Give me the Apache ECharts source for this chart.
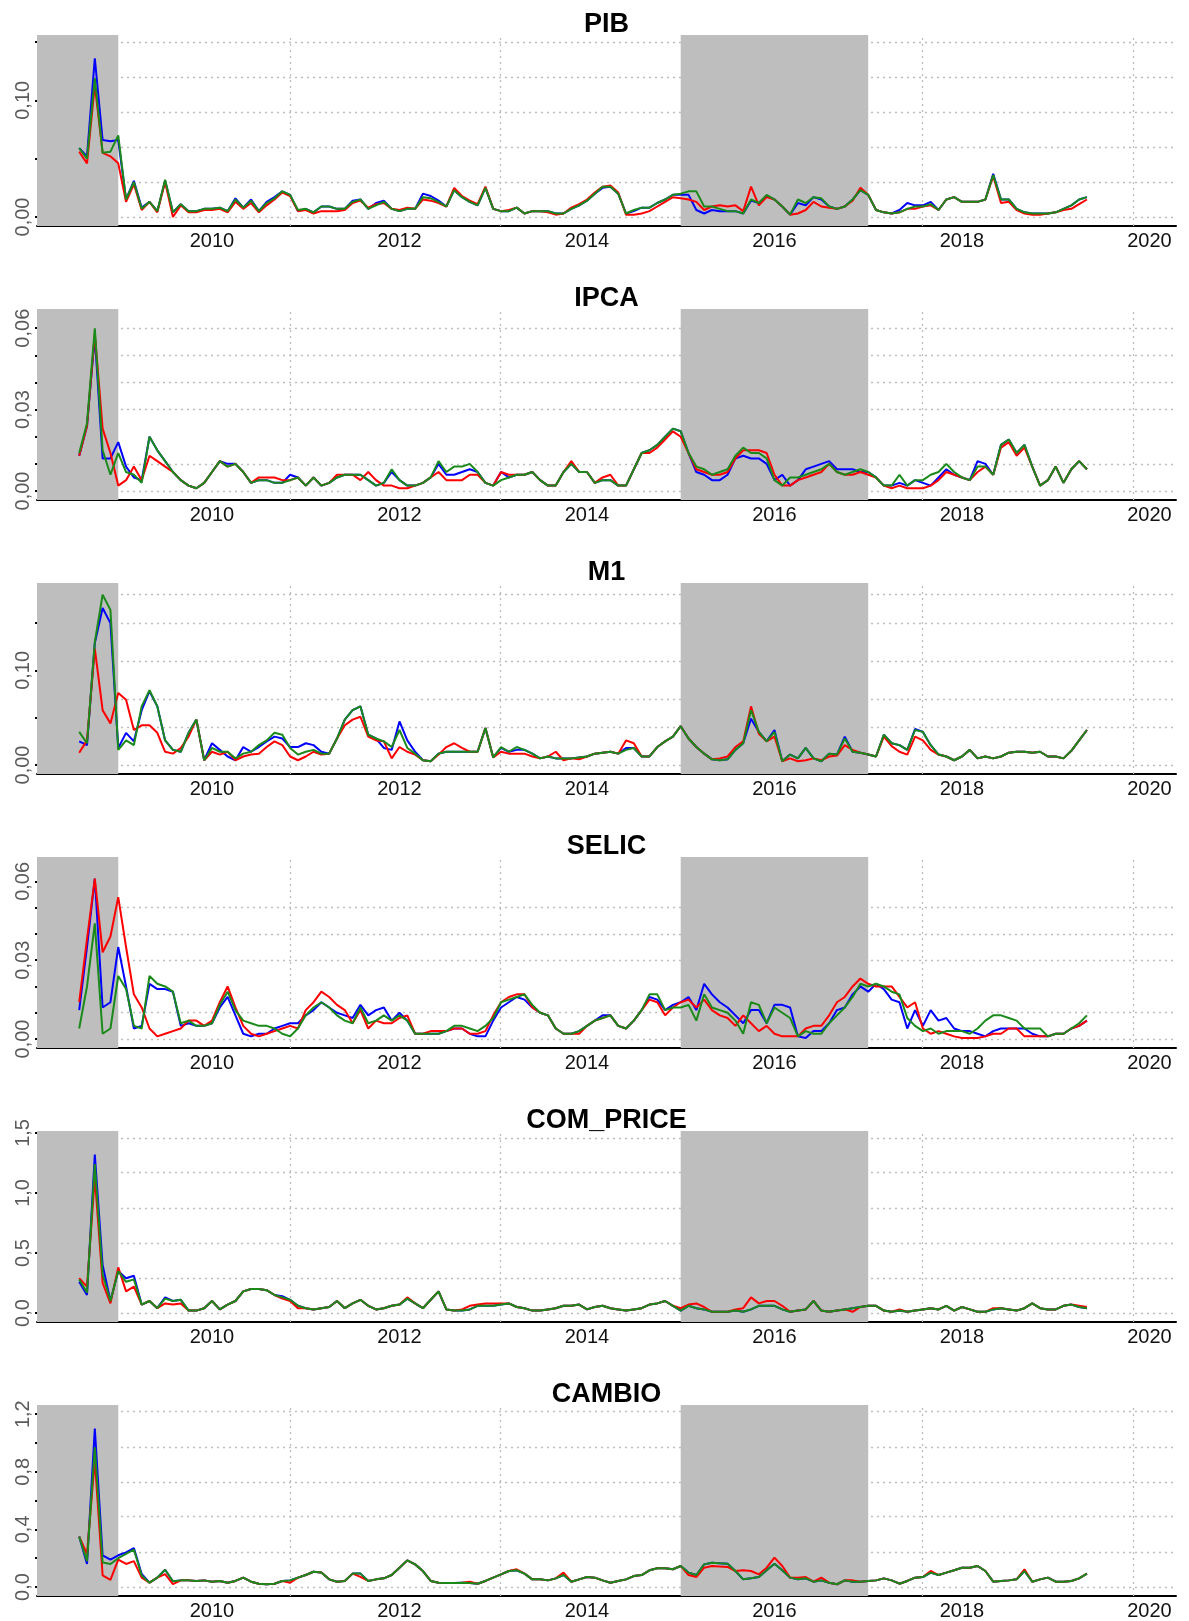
<!DOCTYPE html>
<html>
<head>
<meta charset="utf-8">
<script src="https://cdn.jsdelivr.net/npm/echarts@6/dist/echarts.min.js"></script>
<style>
  html, body { margin: 0; padding: 0; background: #fff; }
  #chart { width: 1189px; height: 1621px; }
</style>
</head>
<body>
<div id="chart"></div>
<script>
// ---- time index: monthly observations, Aug 2008 .. May 2019 (index runs to Nov 2019) ----
const firstYear = 2008;
const firstMonth = 8;
const observedMonths = 130;
const indexMonths = 136;
const yearTicks = [2010, 2012, 2014, 2016, 2018, 2020];
const verticalGridMonths = [0, 27, 54, 81, 108, 135];
const shadedPeriods = [[null, 2009], [2015, 2017]];

// ---- PIB ----
const pibBlue = [
  .059,.052,.136,.066,.065,.066,.015,.031,.008,.013,
  .005,.031,.004,.011,.005,.005,.007,.007,.008,.005,
  .016,.008,.015,.005,.013,.017,.022,.019,.005,.007,
  .004,.009,.009,.007,.007,.014,.015,.007,.012,.014,
  .007,.005,.007,.007,.020,.018,.014,.009,.023,.017,
  .013,.010,.025,.007,.005,.005,.008,.003,.005,.005,
  .005,.003,.003,.007,.010,.014,.020,.025,.026,.020,
  .003,.005,.008,.008,.012,.015,.019,.019,.019,.006,
  .003,.006,.005,.005,.005,.003,.014,.012,.018,.015,
  .009,.002,.012,.010,.017,.015,.009,.007,.009,.015,
  .023,.019,.006,.004,.003,.006,.012,.010,.010,.013,
  .006,.015,.017,.013,.013,.013,.015,.037,.015,.015,
  .007,.004,.003,.003,.003,.004,.007,.010,.015,.017
];
const pibRed = [
  .056,.046,.113,.055,.052,.046,.013,.028,.006,.013,
  .004,.030,.000,.010,.004,.004,.006,.006,.007,.004,
  .013,.007,.012,.004,.010,.015,.021,.018,.005,.006,
  .003,.005,.005,.005,.006,.012,.014,.008,.011,.012,
  .007,.006,.008,.007,.015,.014,.012,.009,.025,.018,
  .014,.011,.026,.007,.005,.006,.008,.003,.005,.005,
  .004,.002,.003,.008,.011,.015,.021,.026,.027,.021,
  .002,.002,.003,.005,.009,.013,.017,.016,.015,.013,
  .006,.009,.010,.009,.010,.005,.026,.010,.017,.015,
  .009,.002,.003,.006,.013,.009,.008,.007,.009,.014,
  .025,.019,.006,.004,.003,.004,.007,.007,.009,.010,
  .006,.015,.017,.013,.013,.013,.015,.035,.012,.013,
  .006,.003,.002,.002,.003,.004,.006,.007,.011,.015
];
const pibGreen = [
  .059,.050,.119,.055,.056,.070,.015,.030,.007,.013,
  .005,.032,.004,.011,.005,.005,.007,.007,.008,.005,
  .015,.008,.014,.005,.012,.016,.022,.019,.006,.007,
  .004,.009,.009,.007,.007,.013,.015,.007,.010,.013,
  .007,.005,.007,.007,.017,.016,.013,.009,.023,.017,
  .013,.010,.025,.007,.005,.005,.008,.003,.005,.005,
  .005,.003,.003,.007,.010,.014,.020,.026,.026,.020,
  .003,.006,.008,.008,.012,.015,.019,.020,.022,.022,
  .009,.009,.007,.005,.005,.003,.015,.012,.019,.015,
  .009,.002,.015,.012,.017,.016,.009,.007,.009,.015,
  .023,.019,.006,.004,.003,.004,.007,.009,.009,.011,
  .006,.015,.017,.013,.013,.013,.015,.036,.015,.015,
  .007,.004,.003,.003,.003,.004,.007,.010,.015,.017
];

// ---- IPCA ----
const ipcaBlue = [
  .013,.024,.057,.012,.012,.018,.009,.005,.004,.020,
  .015,.011,.007,.004,.002,.001,.003,.007,.011,.010,
  .010,.007,.003,.004,.004,.003,.003,.006,.005,.002,
  .005,.002,.003,.005,.006,.006,.006,.004,.002,.003,
  .007,.004,.002,.002,.003,.005,.010,.006,.006,.007,
  .008,.007,.003,.002,.007,.005,.006,.006,.007,.004,
  .002,.002,.007,.010,.007,.007,.003,.004,.004,.002,
  .002,.008,.014,.015,.017,.020,.023,.022,.014,.007,
  .006,.004,.004,.006,.012,.013,.012,.012,.010,.004,
  .006,.002,.004,.008,.009,.010,.011,.008,.008,.008,
  .007,.007,.005,.002,.002,.003,.002,.004,.003,.002,
  .005,.008,.006,.005,.004,.011,.010,.006,.017,.019,
  .014,.017,.009,.002,.004,.009,.003,.008,.011,.008
];
const ipcaRed = [
  .013,.024,.058,.023,.014,.002,.004,.009,.004,.013,
  .011,.009,.007,.004,.002,.001,.003,.007,.011,.009,
  .010,.007,.003,.005,.005,.005,.004,.004,.005,.002,
  .005,.002,.003,.006,.006,.006,.004,.007,.004,.002,
  .002,.001,.001,.002,.003,.005,.007,.004,.004,.004,
  .006,.006,.003,.002,.007,.006,.006,.006,.007,.004,
  .002,.002,.007,.011,.007,.007,.003,.005,.006,.002,
  .002,.008,.014,.014,.016,.019,.022,.020,.014,.008,
  .007,.006,.006,.007,.012,.015,.015,.015,.014,.006,
  .002,.002,.004,.005,.006,.007,.010,.007,.006,.006,
  .007,.006,.005,.002,.001,.002,.001,.001,.001,.002,
  .004,.007,.006,.005,.004,.007,.009,.006,.016,.018,
  .013,.016,.009,.002,.004,.009,.003,.008,.011,.008
];
const ipcaGreen = [
  .014,.025,.060,.015,.006,.014,.007,.006,.003,.020,
  .015,.011,.007,.004,.002,.001,.003,.007,.011,.009,
  .010,.007,.003,.004,.004,.003,.003,.004,.005,.002,
  .005,.002,.003,.005,.006,.006,.006,.004,.002,.003,
  .008,.004,.002,.002,.003,.005,.011,.007,.009,.009,
  .010,.007,.003,.002,.004,.005,.006,.006,.007,.004,
  .002,.002,.007,.010,.007,.007,.003,.004,.004,.002,
  .002,.008,.014,.015,.017,.020,.023,.022,.014,.009,
  .008,.006,.007,.008,.013,.016,.014,.014,.012,.004,
  .002,.005,.005,.006,.007,.008,.010,.007,.006,.007,
  .008,.007,.005,.002,.002,.006,.002,.004,.004,.006,
  .007,.010,.007,.005,.004,.009,.009,.006,.017,.019,
  .014,.017,.009,.002,.004,.009,.003,.008,.011,.008
];

// ---- M1 ----
const m1Blue = [
  .025,.021,.129,.166,.150,.018,.034,.025,.058,.078,
  .062,.026,.016,.014,.034,.048,.005,.023,.016,.009,
  .005,.019,.014,.019,.025,.030,.028,.019,.019,.023,
  .021,.014,.012,.028,.048,.058,.062,.032,.028,.018,
  .016,.046,.026,.014,.005,.004,.012,.014,.014,.014,
  .014,.014,.039,.008,.018,.014,.016,.016,.012,.007,
  .009,.007,.007,.007,.008,.009,.012,.013,.014,.012,
  .018,.018,.009,.009,.019,.025,.030,.041,.028,.019,
  .012,.006,.005,.006,.016,.023,.049,.035,.025,.037,
  .004,.011,.007,.018,.007,.004,.012,.011,.030,.014,
  .013,.011,.009,.032,.023,.021,.016,.038,.035,.021,
  .011,.009,.005,.009,.016,.007,.009,.007,.009,.013,
  .014,.014,.013,.014,.009,.009,.007,.015,.026,.037
];
const m1Red = [
  .013,.026,.123,.058,.044,.076,.069,.037,.042,.042,
  .034,.014,.012,.018,.030,.048,.005,.014,.011,.014,
  .005,.009,.011,.012,.019,.025,.021,.009,.005,.009,
  .014,.011,.012,.028,.042,.048,.051,.030,.026,.025,
  .007,.019,.014,.011,.005,.004,.011,.019,.023,.018,
  .014,.014,.039,.008,.014,.012,.012,.012,.009,.007,
  .009,.014,.005,.007,.006,.009,.012,.013,.014,.012,
  .026,.023,.009,.009,.019,.025,.030,.041,.028,.019,
  .012,.006,.007,.009,.019,.025,.062,.033,.025,.030,
  .004,.007,.004,.005,.007,.005,.009,.010,.021,.016,
  .013,.011,.009,.030,.020,.014,.011,.030,.026,.016,
  .011,.009,.005,.009,.016,.007,.009,.007,.009,.013,
  .014,.014,.013,.014,.009,.009,.007,.015,.026,.037
];
const m1Green = [
  .035,.023,.130,.180,.164,.016,.026,.021,.062,.079,
  .062,.026,.016,.014,.034,.048,.005,.018,.014,.014,
  .007,.012,.014,.021,.026,.034,.032,.018,.011,.014,
  .016,.012,.012,.028,.048,.058,.062,.032,.028,.025,
  .019,.037,.018,.012,.005,.004,.012,.014,.014,.014,
  .014,.014,.039,.008,.019,.014,.019,.016,.012,.007,
  .009,.007,.007,.007,.008,.009,.012,.013,.014,.012,
  .016,.018,.009,.009,.019,.025,.030,.041,.028,.019,
  .012,.006,.005,.006,.016,.023,.058,.035,.025,.035,
  .004,.011,.007,.018,.007,.004,.012,.011,.028,.014,
  .013,.011,.009,.032,.023,.021,.016,.037,.035,.021,
  .011,.009,.005,.009,.016,.007,.009,.007,.009,.013,
  .014,.014,.013,.014,.009,.009,.007,.015,.026,.037
];

// ---- SELIC ----
const selicBlue = [
  .011,.035,.061,.012,.014,.035,.020,.004,.005,.021,
  .019,.019,.018,.005,.006,.005,.005,.006,.012,.016,
  .009,.002,.001,.002,.002,.004,.005,.006,.006,.009,
  .011,.014,.012,.010,.009,.008,.013,.009,.011,.012,
  .007,.010,.007,.002,.002,.002,.002,.003,.004,.004,
  .002,.001,.001,.007,.012,.014,.016,.015,.012,.010,
  .009,.004,.002,.002,.003,.005,.007,.009,.009,.005,
  .004,.007,.011,.016,.015,.011,.013,.014,.016,.011,
  .021,.017,.014,.012,.009,.006,.011,.011,.006,.013,
  .013,.012,.001,.0004,.003,.003,.006,.011,.012,.017,
  .020,.018,.021,.019,.015,.014,.004,.011,.005,.011,
  .007,.008,.004,.003,.003,.002,.001,.003,.004,.004,
  .004,.004,.002,.001,.001,.002,.002,.004,.005,.007
];
const selicRed = [
  .014,.038,.061,.033,.039,.054,.035,.017,.012,.004,
  .001,.002,.003,.004,.007,.007,.005,.007,.014,.020,
  .012,.005,.002,.001,.002,.003,.004,.005,.004,.011,
  .014,.018,.016,.013,.011,.006,.011,.004,.007,.006,
  .006,.008,.009,.002,.002,.003,.003,.003,.004,.004,
  .002,.002,.003,.009,.014,.016,.017,.017,.012,.010,
  .009,.004,.002,.002,.002,.005,.007,.008,.009,.005,
  .004,.007,.011,.015,.014,.009,.012,.014,.015,.012,
  .015,.011,.009,.008,.005,.009,.006,.003,.005,.002,
  .001,.001,.001,.004,.005,.005,.009,.014,.016,.020,
  .023,.021,.020,.020,.020,.016,.012,.014,.004,.002,
  .003,.002,.001,.0004,.0004,.0004,.001,.002,.002,.004,
  .004,.001,.001,.001,.001,.002,.002,.004,.005,.007
];
const selicGreen = [
  .004,.020,.044,.002,.004,.024,.019,.005,.004,.024,
  .021,.020,.018,.006,.007,.005,.005,.006,.013,.018,
  .011,.007,.006,.005,.005,.004,.002,.001,.004,.009,
  .012,.014,.012,.009,.007,.006,.012,.006,.007,.009,
  .007,.009,.007,.002,.002,.002,.002,.003,.005,.005,
  .004,.003,.005,.008,.014,.015,.016,.017,.013,.010,
  .009,.004,.002,.002,.003,.005,.007,.008,.009,.005,
  .004,.007,.011,.017,.017,.011,.012,.012,.013,.007,
  .017,.012,.011,.010,.007,.002,.014,.013,.006,.012,
  .010,.008,.001,.003,.002,.002,.006,.009,.012,.016,
  .021,.020,.021,.020,.018,.017,.008,.005,.003,.004,
  .002,.003,.003,.003,.002,.004,.007,.009,.009,.008,
  .007,.004,.004,.004,.001,.002,.002,.004,.006,.009
];

// ---- COM_PRICE ----
const comBlue = [
  .26,.15,1.32,.40,.10,.35,.29,.31,.07,.10,
  .04,.13,.10,.11,.02,.02,.04,.10,.03,.07,
  .10,.18,.20,.20,.19,.15,.14,.11,.06,.04,
  .03,.04,.05,.10,.04,.08,.11,.06,.03,.04,
  .06,.07,.12,.08,.04,.11,.18,.03,.02,.02,
  .03,.06,.06,.06,.07,.08,.05,.04,.02,.02,
  .03,.04,.06,.06,.07,.03,.05,.06,.04,.03,
  .02,.03,.04,.07,.08,.10,.06,.02,.06,.04,
  .03,.01,.01,.01,.02,.01,.03,.06,.06,.06,
  .03,.01,.02,.03,.10,.02,.01,.02,.03,.04,
  .05,.06,.06,.02,.01,.02,.01,.02,.03,.04,
  .03,.06,.02,.05,.03,.01,.01,.03,.04,.03,
  .02,.04,.08,.04,.03,.03,.06,.07,.05,.04
];
const comRed = [
  .29,.22,1.13,.25,.08,.38,.18,.22,.07,.10,
  .04,.08,.07,.08,.02,.02,.04,.10,.03,.07,
  .10,.18,.20,.20,.19,.15,.12,.10,.04,.04,
  .03,.04,.05,.10,.04,.08,.11,.06,.03,.04,
  .06,.07,.13,.08,.04,.11,.18,.03,.02,.03,
  .06,.07,.08,.08,.08,.08,.05,.04,.02,.02,
  .03,.04,.06,.06,.07,.03,.05,.06,.04,.03,
  .02,.03,.04,.07,.08,.10,.06,.04,.07,.08,
  .05,.01,.01,.01,.03,.04,.13,.08,.10,.10,
  .06,.01,.02,.03,.10,.02,.01,.02,.03,.01,
  .05,.06,.06,.02,.01,.03,.01,.02,.03,.04,
  .03,.06,.02,.05,.03,.01,.01,.04,.04,.03,
  .02,.04,.08,.04,.03,.03,.06,.07,.06,.05
];
const comGreen = [
  .28,.17,1.24,.32,.10,.35,.26,.28,.07,.10,
  .04,.12,.10,.11,.02,.02,.04,.10,.03,.07,
  .10,.18,.20,.20,.19,.15,.13,.11,.06,.04,
  .03,.04,.05,.10,.04,.08,.11,.06,.03,.04,
  .06,.07,.12,.08,.04,.11,.18,.03,.02,.02,
  .03,.06,.06,.06,.07,.08,.05,.04,.02,.02,
  .03,.04,.06,.06,.07,.03,.05,.06,.04,.03,
  .02,.03,.04,.07,.08,.10,.06,.02,.06,.04,
  .03,.01,.01,.01,.02,.01,.03,.06,.06,.06,
  .03,.01,.02,.03,.10,.02,.01,.02,.03,.04,
  .05,.06,.06,.02,.01,.02,.01,.02,.03,.04,
  .03,.06,.02,.05,.03,.01,.01,.03,.04,.03,
  .02,.04,.08,.04,.03,.03,.06,.07,.05,.04
];

// ---- CAMBIO ----
const cambioBlue = [
  .35,.16,1.10,.22,.19,.22,.24,.27,.09,.03,
  .065,.12,.04,.046,.046,.042,.046,.037,.042,.03,
  .042,.065,.037,.023,.019,.023,.042,.046,.065,.083,
  .106,.10,.053,.037,.042,.093,.093,.042,.053,.06,
  .083,.134,.185,.157,.111,.042,.03,.028,.028,.03,
  .028,.023,.042,.065,.088,.111,.116,.093,.053,.053,
  .046,.06,.083,.037,.053,.069,.065,.046,.03,.042,
  .053,.076,.083,.116,.13,.13,.123,.146,.10,.083,
  .157,.169,.165,.162,.111,.053,.06,.069,.116,.162,
  .116,.065,.053,.06,.037,.046,.03,.019,.046,.037,
  .037,.042,.046,.06,.046,.023,.042,.065,.069,.10,
  .083,.10,.116,.134,.134,.146,.111,.037,.042,.046,
  .053,.111,.037,.053,.065,.037,.037,.042,.06,.093
];
const cambioRed = [
  .35,.23,.88,.08,.05,.19,.16,.18,.065,.03,
  .065,.09,.02,.046,.046,.042,.046,.037,.042,.03,
  .042,.065,.037,.023,.019,.023,.042,.03,.065,.083,
  .106,.10,.053,.037,.042,.093,.07,.042,.053,.06,
  .083,.134,.185,.157,.111,.042,.03,.028,.028,.03,
  .037,.023,.042,.065,.088,.111,.123,.093,.053,.053,
  .046,.06,.10,.037,.053,.069,.065,.046,.03,.042,
  .053,.076,.083,.116,.13,.13,.123,.146,.083,.069,
  .134,.146,.143,.139,.111,.116,.111,.088,.134,.204,
  .146,.065,.065,.069,.037,.065,.03,.019,.046,.046,
  .037,.042,.046,.06,.046,.023,.042,.065,.069,.111,
  .083,.10,.116,.134,.134,.146,.111,.037,.042,.046,
  .053,.123,.037,.053,.065,.037,.037,.042,.06,.093
];
const cambioGreen = [
  .35,.18,.97,.17,.16,.20,.23,.26,.08,.03,
  .065,.12,.04,.046,.046,.042,.046,.037,.042,.03,
  .042,.065,.037,.023,.019,.023,.042,.046,.065,.083,
  .106,.10,.053,.037,.042,.093,.093,.042,.053,.06,
  .083,.134,.185,.157,.111,.042,.03,.028,.028,.03,
  .028,.023,.042,.065,.088,.111,.116,.093,.053,.053,
  .046,.06,.083,.037,.053,.069,.065,.046,.03,.042,
  .053,.076,.083,.116,.13,.13,.123,.146,.10,.083,
  .157,.169,.165,.162,.111,.053,.06,.069,.116,.162,
  .116,.065,.053,.06,.037,.046,.03,.019,.046,.037,
  .037,.042,.046,.06,.046,.023,.042,.065,.069,.10,
  .083,.10,.116,.134,.134,.146,.111,.037,.042,.046,
  .053,.111,.037,.053,.065,.037,.037,.042,.06,.093
];

// ---- panel definitions: y range top (upper grid line), y ticks, labelled ticks ----
const panels = [
  { name: 'PIB',       yTop: 0.150,  ticks: [0, 0.05, 0.10, 0.15], labels: [0, 0.10], digits: 2, data: [pibBlue, pibRed, pibGreen] },
  { name: 'IPCA',      yTop: 0.0645, ticks: [0, 0.01, 0.02, 0.03, 0.04, 0.05, 0.06], labels: [0, 0.03, 0.06], digits: 2, data: [ipcaBlue, ipcaRed, ipcaGreen] },
  { name: 'M1',        yTop: 0.185,  ticks: [0, 0.05, 0.10, 0.15], labels: [0, 0.10], digits: 2, data: [m1Blue, m1Red, m1Green] },
  { name: 'SELIC',     yTop: 0.0666, ticks: [0, 0.01, 0.02, 0.03, 0.04, 0.05, 0.06], labels: [0, 0.03, 0.06], digits: 2, data: [selicBlue, selicRed, selicGreen] },
  { name: 'COM_PRICE', yTop: 1.458,  ticks: [0, 0.5, 1.0, 1.5], labels: [0, 0.5, 1.0, 1.5], digits: 1, data: [comBlue, comRed, comGreen] },
  { name: 'CAMBIO',    yTop: 1.215,  ticks: [0, 0.2, 0.4, 0.6, 0.8, 1.0, 1.2], labels: [0, 0.4, 0.8, 1.2], digits: 1, data: [cambioBlue, cambioRed, cambioGreen] }
];

// ---- layout and style ----
const FONT = '"Liberation Sans", Arial, Helvetica, sans-serif';
const lineColors = ['#0000FF', '#FF0000', '#1A8A1A'];
const gridLeft = 37, gridRight = 13, panelHeight = 191;
const panelTops = [35, 309, 583, 857, 1131, 1405];
const shadeColor = '#BEBEBE';
const gridDotColor = '#BDBDBD';

const monthToYear = m => firstYear + (firstMonth - 1 + m) / 12;
const months = Array.from({ length: observedMonths }, (_, i) => monthToYear(i));
const xStart = monthToYear(0), xEnd = monthToYear(indexMonths - 1);
const xPad = 0.04 * (xEnd - xStart);
const xMin = xStart - xPad, xMax = xEnd + xPad;
const verticalGridYears = verticalGridMonths.map(monthToYear);

const grids = [], xAxes = [], yAxes = [], series = [], graphics = [];

panels.forEach((p, k) => {
  const top = panelTops[k];
  const yMin = -p.yTop * 9 / 175;
  const yMax = p.yTop * (1 + 7 / 175);
  grids.push({ left: gridLeft, right: gridRight, top: top, height: panelHeight });

  xAxes.push({
    gridIndex: k, type: 'value', min: xMin, max: xMax,
    axisLine: { show: true, onZero: false, lineStyle: { color: '#000', width: 2 } },
    axisTick: { show: false },
    splitLine: { show: false },
    axisLabel: {
      customValues: yearTicks, margin: 5, fontSize: 20, fontFamily: FONT, color: '#111',
      formatter: v => String(Math.round(v))
    }
  });

  yAxes.push({
    gridIndex: k, type: 'value', min: yMin, max: yMax,
    axisLine: { show: false },
    splitLine: { show: false },
    axisTick: { show: true, customValues: p.ticks, length: 2, lineStyle: { color: '#000', width: 2 } },
    axisLabel: {
      customValues: p.labels, rotate: 90, margin: 4, fontSize: 20, fontFamily: FONT, color: '#5a5a5a',
      formatter: v => v.toFixed(p.digits).replace('.', ',')
    }
  });

  // dotted grid lines (behind the shaded periods)
  const hLines = [0, 1, 2, 3, 4, 5].map(j => ({ yAxis: p.yTop * j / 5 }));
  const vLines = verticalGridYears.map(x => ({ xAxis: x }));
  series.push({
    type: 'line', xAxisIndex: k, yAxisIndex: k, data: [], silent: true, z: 1,
    markLine: {
      silent: true, z: 1, symbol: ['none', 'none'], animation: false,
      label: { show: false },
      lineStyle: { type: [2, 4], color: gridDotColor, width: 1.3 },
      emphasis: { disabled: true },
      data: hLines.concat(vLines)
    }
  });

  // shaded periods
  series.push({
    type: 'line', xAxisIndex: k, yAxisIndex: k, data: [], silent: true, z: 1,
    markArea: {
      silent: true, z: 1.5, animation: false,
      itemStyle: { color: shadeColor },
      emphasis: { disabled: true },
      data: shadedPeriods.map(([a, b]) => [{ xAxis: a === null ? xMin : a }, { xAxis: b }])
    }
  });

  p.data.forEach((vals, s) => {
    series.push({
      type: 'line', xAxisIndex: k, yAxisIndex: k, z: 3 + s,
      showSymbol: false, silent: true, animation: false,
      lineStyle: { color: lineColors[s], width: 2 },
      data: vals.map((v, i) => [months[i], v])
    });
  });

  graphics.push({
    type: 'text', x: (gridLeft + (1189 - gridRight)) / 2, y: top - 10,
    style: {
      text: p.name, fill: '#000', font: 'bold 27px ' + FONT,
      textAlign: 'center', textVerticalAlign: 'middle'
    }
  });
});

const chart = echarts.init(document.getElementById('chart'), null, { renderer: 'canvas' });
chart.setOption({
  animation: false,
  backgroundColor: '#fff',
  grid: grids,
  xAxis: xAxes,
  yAxis: yAxes,
  series: series,
  graphic: graphics
});
</script>
</body>
</html>
